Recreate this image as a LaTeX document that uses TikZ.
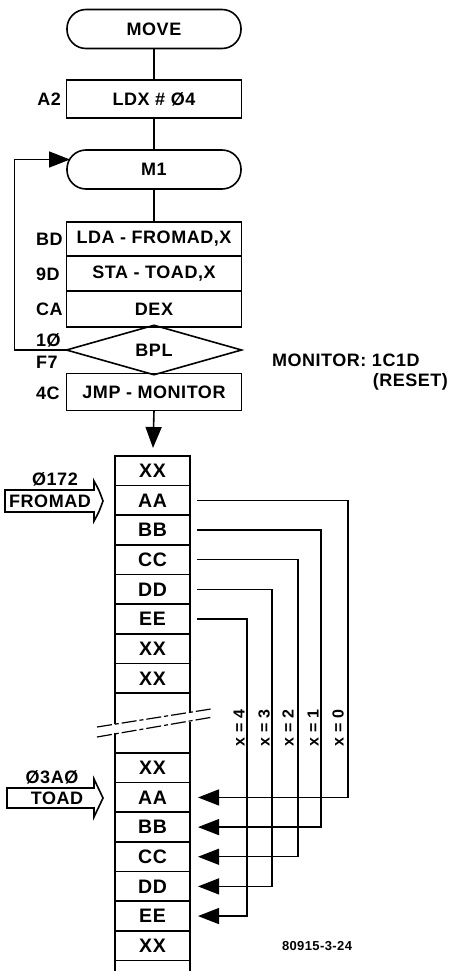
\documentclass[tikz,border=0pt]{standalone}
\usepackage{fontspec}
\setmainfont[LetterSpace=3]{Liberation Sans}
\usetikzlibrary{arrows.meta,shapes.geometric,calc}
\newcommand\fsbox{\fontsize{18}{20}\selectfont\bfseries}
\newcommand\fscell{\fontsize{19.5}{21}\selectfont\bfseries}
\newcommand\fssmall{\fontsize{16}{18}\selectfont\bfseries}
\newcommand\fstiny{\fontsize{13}{15}\selectfont\bfseries}
\begin{document}
\begin{tikzpicture}[x=1pt,y=-1pt,
  every node/.style={inner sep=0pt, outer sep=0pt},
  frame/.style={line width=1.6pt},
  term/.style={draw, frame, rounded corners=19pt, minimum width=174pt, minimum height=39pt, font=\fsbox},
  stepbox/.style={draw, frame, minimum width=175pt, font=\fsbox},
  cell/.style={draw, frame, minimum width=75pt, minimum height=29.65pt, font=\fscell},
  lab/.style={font=\fsbox},
  conn/.style={line width=1.3pt},
  bigtip/.style={-{Triangle[length=21pt,width=16pt]}},
]
\useasboundingbox (0,0) rectangle (451,971);

% flowchart
\node[term] (move) at (154,29) {MOVE};
\node[stepbox, minimum height=38pt] (ldx) at (154,99) {LDX \# Ø4};
\node[term] (m1) at (154,169.5) {M1};
\node[stepbox, minimum height=34pt] (lda) at (154,239) {LDA - FROMAD,X};
\node[stepbox, minimum height=35pt] (sta) at (154,273.5) {STA - TOAD,X};
\node[stepbox, minimum height=36pt] (dex) at (154,309) {DEX};
\node[draw, frame, diamond, minimum width=175pt, minimum height=46pt, font=\fsbox] (bpl) at (154,350) {BPL};
\node[stepbox, minimum height=37pt] (jmp) at (154,392) {JMP - MONITOR};

\draw[frame] (move.south) -- (ldx.north);
\draw[frame] (ldx.south) -- (m1.north);
\draw[frame] (m1.south) -- (lda.north);
\coordinate (memtop) at (153,448);
\draw[frame, bigtip] (jmp.south) -- (memtop);
\draw[frame, bigtip] (bpl.west) -- ++(-52,0) |- ($(m1.west)+(3,-10)$);

% opcode labels
\node[lab, anchor=east] (la2) at (61,99) {A2};
\node[lab, anchor=west] (lbd) at (36,239) {BD};
\node[lab, anchor=west] (l9d) at (36,274) {9D};
\node[lab, anchor=west] (lca) at (36,309) {CA};
\node[lab, anchor=west] (l10) at (36,340) {1Ø};
\node[lab, anchor=west] (lf7) at (36,362) {F7};
\node[lab, anchor=west] (l4c) at (36,393) {4C};

\node[lab, anchor=west] (mon) at (272,360) {MONITOR: 1C1D};
\node[lab, anchor=east] (reset) at (448,382) {(RESET)};

% memory
\foreach \t [count=\i from 0] in {XX,AA,BB,CC,DD,EE,XX,XX}
  \node[cell] (t\i) at (152.5,470.8+\i*29.65) {\t};
\foreach \t [count=\i from 0] in {XX,AA,BB,CC,DD,EE,XX}
  \node[cell] (b\i) at (152.5,767.8+\i*29.65) {\t};

% gap in the column
\draw[frame] (t7.south west) -- (115,723.5);
\draw[frame] (115,733) -- (b0.north west);
\draw[frame] (t7.south east) -- (190,712);
\draw[frame] (190,722) -- (b0.north east);
\draw[line width=1.2pt, dash pattern=on 15pt off 3pt on 4pt off 3pt] (97,727) -- (211,709);
\draw[line width=1.2pt, dash pattern=on 15pt off 3pt on 4pt off 3pt] (97,737) -- (213,717);
\draw[frame] (b6.south west) -- ++(0,12);
\draw[frame] (b6.south east) -- ++(0,12);

% pointer arrows
\node[lab] (a172) at (55,479) {Ø172};
\node[lab] (fromad) at (50,501) {FROMAD};
\draw[frame] (5,490) -- (94,490) -- (94,481) .. controls (99,490) .. (103,501) .. controls (99,512) .. (94,521) -- (94,512) -- (5,512) -- cycle;
\node[lab] (a3a0) at (52,777) {Ø3AØ};
\node[lab] (toad) at (57,798) {TOAD};
\draw[frame] (7,788) -- (94,788) -- (94,779) .. controls (99,788) .. (103,798) .. controls (99,808) .. (94,817) -- (94,808) -- (7,808) -- cycle;

% copy connectors
\draw[conn, bigtip] ([xshift=7pt]t1.east) -| ([xshift=158pt]b1.east) -- ([xshift=8pt]b1.east);
\draw[conn, bigtip] ([xshift=7pt]t2.east) -| ([xshift=131pt]b2.east) -- ([xshift=8pt]b2.east);
\draw[conn, bigtip] ([xshift=7pt]t3.east) -| ([xshift=108pt]b3.east) -- ([xshift=8pt]b3.east);
\draw[conn, bigtip] ([xshift=7pt]t4.east) -| ([xshift=82pt]b4.east) -- ([xshift=8pt]b4.east);
\draw[conn, bigtip] ([xshift=7pt]t5.east) -| ([xshift=57pt]b5.east) -- ([xshift=8pt]b5.east);

\node[font=\fssmall, rotate=90] (x0) at (338,728) {x = 0};
\node[font=\fssmall, rotate=90] (x1) at (313,728) {x = 1};
\node[font=\fssmall, rotate=90] (x2) at (288,728) {x = 2};
\node[font=\fssmall, rotate=90] (x3) at (264,728) {x = 3};
\node[font=\fssmall, rotate=90] (x4) at (239,728) {x = 4};

\node[font=\fstiny] (fig) at (317,946) {80915-3-24};
\end{tikzpicture}
\end{document}
